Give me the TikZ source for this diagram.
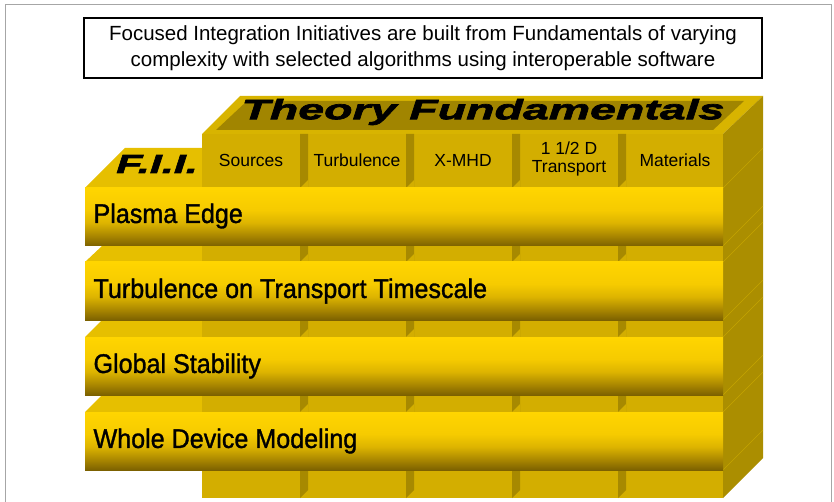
\documentclass[tikz,border=0pt]{standalone}
\usepackage{fontspec}
\setmainfont{Liberation Sans}
\newfontfamily\narrowfont[FakeStretch=0.93,FakeBold=1.2]{Liberation Sans}
\newfontfamily\widefont[FakeStretch=1.66,FakeBold=2.5]{Liberation Sans}
\definecolor{barTop}{HTML}{FFD500}
\definecolor{barHigh}{HTML}{F6CB00}
\definecolor{barMid}{HTML}{DDB400}
\definecolor{barLow}{HTML}{AA8700}
\definecolor{barBot}{HTML}{7C6100}
\definecolor{colFront}{HTML}{D3AE00}
\definecolor{colSide}{HTML}{A78900}
\definecolor{slabRim}{HTML}{D8B400}
\definecolor{slabInner}{HTML}{A18500}
\definecolor{topFace}{HTML}{E6BF00}
\definecolor{sideFace}{HTML}{AB8E00}
\definecolor{sideLine}{HTML}{C4A500}
\pgfdeclareverticalshading{barshade}{100bp}{color(0bp)=(barBot); color(25bp)=(barBot); color(34bp)=(barLow); color(45bp)=(barMid); color(56bp)=(barHigh); color(75bp)=(barTop); color(100bp)=(barTop)}
\tikzset{
  collabel/.style={font=\fontsize{17.5}{18}\selectfont, align=center},
  rowlabel/.style={font=\narrowfont\fontsize{27}{30}\selectfont, anchor=west},
  headlabel/.style={font=\widefont\bfseries\itshape\fontsize{28}{30}\selectfont},
  bar/.style={shading=barshade}
}
\begin{document}
\begin{tikzpicture}[x=1pt,y=-1pt]
    \useasboundingbox (0,0) rectangle (834,502);
    \draw[gray!70, line width=1pt] (5,520) -- (5,5) -- (831,5) -- (831,520);

    \node[draw, line width=1.2pt, minimum width=678, minimum height=60, align=center,
          font=\fontsize{20.5}{26}\selectfont] (caption) at (423,48)
        {Focused Integration Initiatives are built from Fundamentals of varying\\
         complexity with selected algorithms using interoperable software};

    \fill[slabRim] (202,134) -- (240,96) -- (763,96) -- (723,134) -- cycle;
    \fill[slabInner] (216,130) -- (247,101) -- (744,101) -- (713,130) -- cycle;
    \fill[sideFace] (723,134) -- (763,96) -- (763,458) -- (723,498) -- cycle;
    \draw[sideLine, line width=0.5pt] (723,188) -- (763,148) (723,246) -- (763,206)
        (723,262) -- (763,222) (723,320) -- (763,280) (723,337) -- (763,297)
        (723,395) -- (763,355) (723,412) -- (763,372) (723,470) -- (763,430);

    \fill[topFace] (85,188) -- (125,148) -- (210,148) -- (210,188) -- cycle;
    \fill[topFace] (85,262) -- (102,246) -- (210,246) -- (210,262) -- cycle;
    \fill[topFace] (85,337) -- (102,320) -- (210,320) -- (210,337) -- cycle;
    \fill[topFace] (85,412) -- (102,395) -- (210,395) -- (210,412) -- cycle;

    \fill[colFront] (202,134) rectangle (723,498);
    \fill[colSide] (300,134) -- (308,134) -- (308,490) -- (300,498) -- cycle;
    \fill[colSide] (406,134) -- (414,134) -- (414,490) -- (406,498) -- cycle;
    \fill[colSide] (512,134) -- (520,134) -- (520,490) -- (512,498) -- cycle;
    \fill[colSide] (618,134) -- (626,134) -- (626,490) -- (618,498) -- cycle;
    \fill[colFront] (300,188) -- (308,180) -- (308,188) -- cycle (300,262) -- (308,254) -- (308,262) -- cycle
        (300,337) -- (308,329) -- (308,337) -- cycle (300,412) -- (308,404) -- (308,412) -- cycle;
    \fill[colFront] (406,188) -- (414,180) -- (414,188) -- cycle (406,262) -- (414,254) -- (414,262) -- cycle
        (406,337) -- (414,329) -- (414,337) -- cycle (406,412) -- (414,404) -- (414,412) -- cycle;
    \fill[colFront] (512,188) -- (520,180) -- (520,188) -- cycle (512,262) -- (520,254) -- (520,262) -- cycle
        (512,337) -- (520,329) -- (520,337) -- cycle (512,412) -- (520,404) -- (520,412) -- cycle;
    \fill[colFront] (618,188) -- (626,180) -- (626,188) -- cycle (618,262) -- (626,254) -- (626,262) -- cycle
        (618,337) -- (626,329) -- (626,337) -- cycle (618,412) -- (626,404) -- (626,412) -- cycle;

    \shade[bar] (85,188) rectangle (723,246);
    \shade[bar] (85,262) rectangle (723,320);
    \shade[bar] (85,337) rectangle (723,395);
    \shade[bar] (85,412) rectangle (723,470);

    \node[headlabel] (theory) at (483,112) {Theory Fundamentals};
    \node[headlabel, font=\widefont\bfseries\itshape\fontsize{26}{28}\selectfont] (fii) at (157,164) {F.I.I.};

    \node[collabel] (sources) at (251,160) {Sources};
    \node[collabel] (turbulence) at (357,160) {Turbulence};
    \node[collabel] (xmhd) at (463,160) {X-MHD};
    \node[collabel] (transport) at (569,159) {1 1/2 D\\Transport};
    \node[collabel] (materials) at (675,160) {Materials};

    \node[rowlabel] (edge) at (90,216) {Plasma Edge};
    \node[rowlabel] (timescale) at (90,291) {Turbulence on Transport Timescale};
    \node[rowlabel] (stability) at (90,366) {Global Stability};
    \node[rowlabel] (device) at (90,441) {Whole Device Modeling};
\end{tikzpicture}
\end{document}
